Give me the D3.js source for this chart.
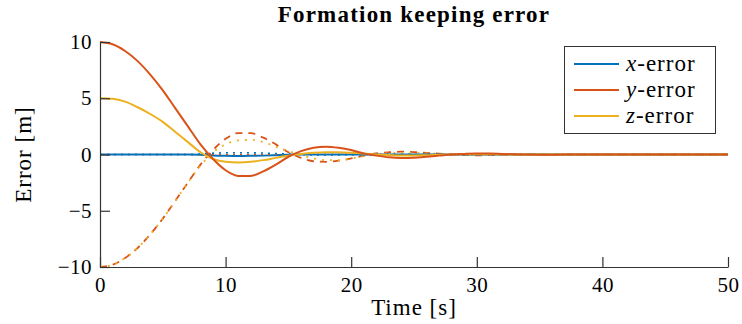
<!DOCTYPE html>
<html>
<head>
<meta charset="utf-8">
<script src="https://cdn.jsdelivr.net/npm/d3@7"></script>
<style>
  body { margin: 0; background: #fff; }
  svg { font-family: "Liberation Serif", "DejaVu Serif", serif; }
</style>
</head>
<body>
<script>
// formation keeping error plot

const width = 742;
const height = 324;
const margin = {top: 42, left: 100, bottom: 57, right: 14};

const time = d3.range(0, 51);

// solid lines (first agent)
const xErr1 = [0,0,0,0,0,0,0,0,-0.02,-0.08,-0.12,-0.13,-0.12,-0.1,-0.06,-0.02,0,0.01,0.01,0,0,
  0,0,0,0,0,0,0,0,0,0,0,0,0,0,0,0,0,0,0,0,0,0,0,0,0,0,0,0,0,0];
const yErr1 = [10,9.8,9.2,8.3,7.1,5.7,4.1,2.5,0.9,-0.4,-1.4,-1.9,-1.9,-1.5,-0.9,-0.2,0.3,0.6,0.7,0.6,0.4,
  0.1,-0.1,-0.25,-0.3,-0.28,-0.2,-0.1,0,0.05,0.08,0.08,0.05,0.02,0,-0.02,-0.02,-0.01,0,0,0,0,0,0,0,0,0,0,0,0,0];
const zErr1 = [5,4.95,4.7,4.2,3.6,2.9,2.0,1.1,0.2,-0.4,-0.65,-0.7,-0.65,-0.5,-0.3,-0.1,0.05,0.15,0.2,0.2,0.15,
  0.08,0,-0.05,-0.08,-0.08,-0.06,-0.03,0,0.02,0.03,0.02,0.01,0,0,0,0,0,0,0,0,0,0,0,0,0,0,0,0,0,0];

// dashed / dotted lines (other agents)
const yErr2 = [-10,-9.8,-9.2,-8.3,-7.1,-5.7,-4.1,-2.5,-0.9,0.4,1.4,1.9,1.9,1.5,0.9,0.2,-0.3,-0.6,-0.65,-0.55,-0.35,
  -0.1,0.1,0.2,0.25,0.22,0.15,0.08,0,-0.05,-0.07,-0.06,-0.04,-0.02,0,0.01,0.01,0,0,0,0,0,0,0,0,0,0,0,0,0,0];
const zErr2 = [-10,-9.8,-9.2,-8.3,-7.1,-5.7,-4.1,-2.5,-1.0,0.2,0.9,1.25,1.3,1.1,0.7,0.3,-0.05,-0.35,-0.5,-0.5,-0.35,
  -0.15,0,0.1,0.15,0.15,0.1,0.05,0,-0.03,-0.04,-0.03,-0.01,0,0,0,0,0,0,0,0,0,0,0,0,0,0,0,0,0,0];
const xErr2 = [0,0,0,0,0,0,0,0,0.05,0.12,0.15,0.16,0.15,0.13,0.09,0.04,0,-0.03,-0.04,-0.03,-0.01,
  0,0,0,0,0,0,0,0,0,0,0,0,0,0,0,0,0,0,0,0,0,0,0,0,0,0,0,0,0,0];
const yErr3 = [0,0,0,0,0,0,0,0,0,0,0,0,0,0,0,0,0,0,0,0,0,
  0,0,0,0,0,0,0,0,0,0,0,0,0,0,0,0,0,0,0,0,0,0,0,0,0,0,0,0,0,0];

const xTicks = [0, 10, 20, 30, 40, 50];
const yTicks = [-10, -5, 0, 5, 10];

const blue = '#0072BD', orange = '#D95319', yellow = '#EDB120';

const series = [
  {values: yErr2, color: orange, dash: '7,6', w: 1.8},
  {values: zErr2, color: yellow, dash: '2,6', w: 1.8},
  {values: xErr1, color: blue, dash: null, w: 2},
  {values: yErr3, color: orange, dash: '2,5', w: 1.6},
  {values: xErr2, color: blue, dash: '2,5', w: 1.6},
  {values: zErr1, color: yellow, dash: null, w: 2},
  {values: yErr1, color: orange, dash: null, w: 2}
];

const x = d3.scaleLinear()
  .domain([0, 50])
  .range([margin.left, width - margin.right]);

const y = d3.scaleLinear()
  .domain([-10, 10])
  .range([height - margin.bottom, margin.top]);

const svg = d3.select('body').append('svg')
  .attr('width', width).attr('height', height);

const line = d3.line()
  .x((d, i) => x(time[i]))
  .y(d => y(d))
  .curve(d3.curveMonotoneX);

svg.append('g')
  .selectAll('path').data(series).enter().append('path')
  .attr('fill', 'none')
  .attr('stroke', d => d.color)
  .attr('stroke-width', d => d.w)
  .attr('stroke-dasharray', d => d.dash)
  .attr('d', d => line(d.values));

// axes, ticks pointing inward
const xAxis = g => g
  .attr('transform', `translate(0, ${height - margin.bottom})`)
  .call(d3.axisBottom(x).tickValues(xTicks).tickSize(-10).tickSizeOuter(0).tickPadding(6))
  .call(g => g.selectAll('text').attr('dy', '0.9em'));

const yAxis = g => g
  .attr('transform', `translate(${margin.left}, 0)`)
  .call(d3.axisLeft(y).tickValues(yTicks).tickSize(-10).tickSizeOuter(0).tickPadding(8)
    .tickFormat(d => d < 0 ? '\u2212' + Math.abs(d) : d));

[xAxis, yAxis].forEach(ax => {
  svg.append('g').call(ax)
    .call(g => g.selectAll('.domain, line').attr('stroke', '#333').attr('stroke-width', 1.2))
    .call(g => g.selectAll('text').attr('fill', '#000')
      .style('font-family', '"Liberation Serif", serif').style('font-size', '21px')
      .style('letter-spacing', '0.5px'));
});

// title and labels
svg.append('text')
  .attr('x', (margin.left + width - margin.right) / 2).attr('y', 22)
  .attr('text-anchor', 'middle')
  .style('font-size', '23px').style('font-weight', 'bold').style('letter-spacing', '1.2px')
  .text('Formation keeping error');

svg.append('text')
  .attr('x', (margin.left + width - margin.right) / 2).attr('y', 315)
  .attr('text-anchor', 'middle')
  .style('font-size', '23px').style('letter-spacing', '1px')
  .text('Time [s]');

svg.append('text')
  .attr('transform', `translate(31, ${y(0)}) rotate(-90)`)
  .attr('text-anchor', 'middle')
  .style('font-size', '23px').style('letter-spacing', '1px')
  .text('Error [m]');

// legend
const legendItems = [
  {v: 'x', color: blue},
  {v: 'y', color: orange},
  {v: 'z', color: yellow}
];

const legend = svg.append('g');
legend.append('rect')
  .attr('x', 564.5).attr('y', 46.5).attr('width', 151).attr('height', 87)
  .attr('fill', '#fff').attr('stroke', '#333').attr('stroke-width', 1);

const item = legend.selectAll('g.item').data(legendItems).enter().append('g')
  .attr('transform', (d, i) => `translate(0, ${64 + i * 26})`);

item.append('line')
  .attr('x1', 574).attr('x2', 619)
  .attr('stroke', d => d.color).attr('stroke-width', 2);

const label = item.append('text')
  .attr('x', 626).attr('y', 7)
  .style('font-size', '23px').style('letter-spacing', '1px');
label.append('tspan').style('font-style', 'italic').text(d => d.v);
label.append('tspan').text('-error');
</script>
</body>
</html>
